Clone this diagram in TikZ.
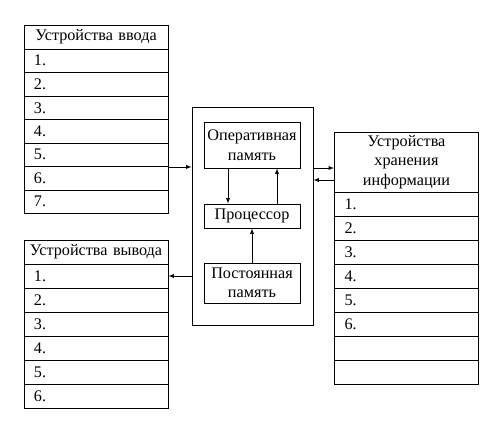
\documentclass[tikz,border=0pt]{standalone}
\usepackage{fontspec}
\setmainfont{Liberation Serif}
\usetikzlibrary{arrows}

\begin{document}
\begin{tikzpicture}[x=1pt, y=-1pt, >=latex, line width=0.9pt, font=\fontsize{16.2}{19.5}\selectfont]
	\useasboundingbox (0,0) rectangle (482,445);
\tikzstyle{head} = [draw, rectangle, text width=142pt, inner xsep=1pt, inner ysep=0pt, align=center, minimum height=24pt];
\tikzstyle{row} = [draw, rectangle, text width=124pt, inner xsep=10pt, inner ysep=0pt, align=left, minimum height=24pt];
\tikzstyle{rowin} = [row, minimum height=23.5pt];
\tikzstyle{unit} = [draw, rectangle, minimum width=96pt, inner sep=0pt, align=center];
% input devices
\node[head] (in0) at (96, 37) {Устройства ввода};
\node[rowin] (in1) at (96, 60.75) {1.};
\node[rowin] (in2) at (96, 84.25) {2.};
\node[rowin] (in3) at (96, 107.75) {3.};
\node[rowin] (in4) at (96, 131.25) {4.};
\node[rowin] (in5) at (96, 154.75) {5.};
\node[rowin] (in6) at (96, 178.25) {6.};
\node[rowin] (in7) at (96, 201.75) {7.};

% output devices
\node[head] (out0) at (96, 252) {Устройства вывода};
\node[row] (out1) at (96, 276) {1.};
\node[row] (out2) at (96, 300) {2.};
\node[row] (out3) at (96, 324) {3.};
\node[row] (out4) at (96, 348) {4.};
\node[row] (out5) at (96, 372) {5.};
\node[row] (out6) at (96, 396) {6.};

% computer
\node[draw, minimum width=121pt, minimum height=218pt] (cbox) at (252.5, 216) {};
\node[unit, minimum height=46pt] (ram) at (252, 145) {Оперативная\\память};
\node[unit, minimum height=24pt] (cpu) at (252, 216) {Процессор};
\node[unit, minimum height=40pt] (rom) at (252, 283) {Постоянная\\память};
\draw[->] ([xshift=-24pt]ram.south) -- ([xshift=-24pt]cpu.north);
\draw[->] ([xshift=25pt]cpu.north) -- ([xshift=25pt]ram.south);
\draw[->] (rom.north) -- (cpu.south);

% storage devices
\node[head, minimum height=60pt] (st0) at (406.5, 162) {Устройства\\хранения\\информации};
\node[row] (st1) at (406.5, 204) {1.};
\node[row] (st2) at (406.5, 228) {2.};
\node[row] (st3) at (406.5, 252) {3.};
\node[row] (st4) at (406.5, 276) {4.};
\node[row] (st5) at (406.5, 300) {5.};
\node[row] (st6) at (406.5, 324) {6.};
\node[row] (st7) at (406.5, 348) {};
\node[row] (st8) at (406.5, 372) {};

\draw[->] (in5.south east) -- (in5.south east -| cbox.west);
\draw[->] (out1.east -| cbox.west) -- (out1.east);
\draw[->] ([yshift=-6pt]st0.west -| cbox.east) -- ([yshift=-6pt]st0.west);
\draw[->] ([yshift=-18pt]st0.west) -- ([yshift=-18pt]st0.west -| cbox.east);
\end{tikzpicture}
\end{document}
